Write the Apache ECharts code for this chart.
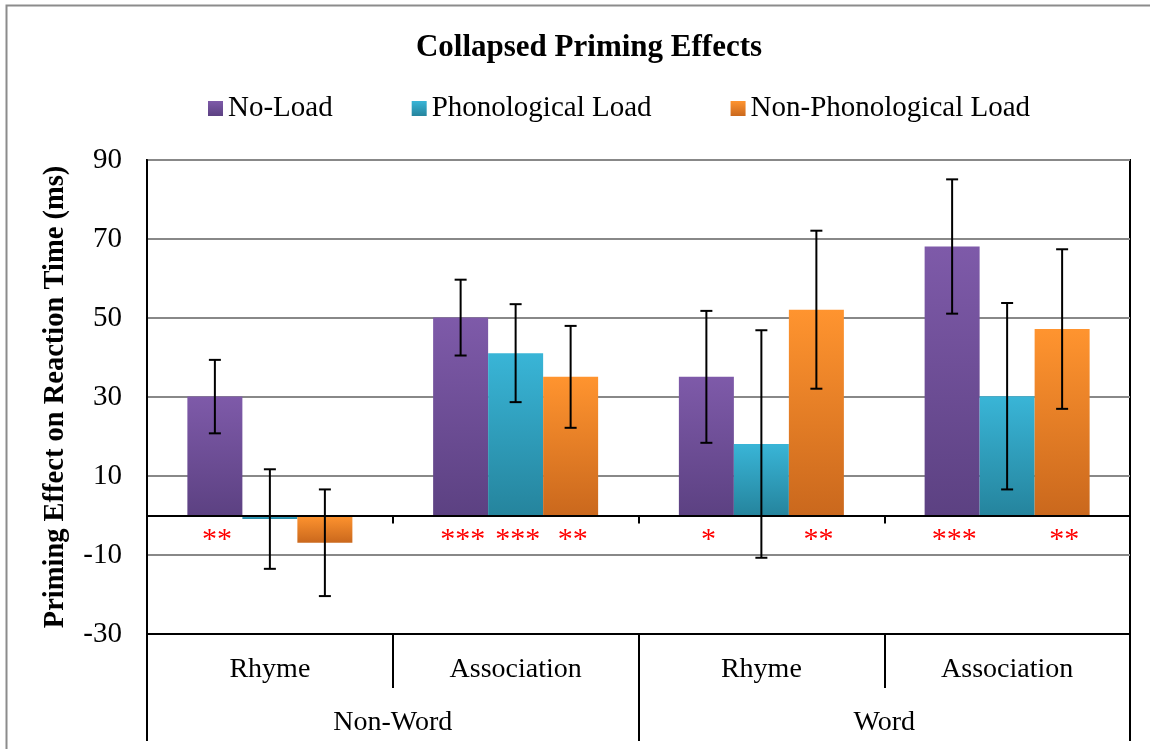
<!DOCTYPE html>
<html>
<head>
<meta charset="utf-8">
<script src="https://cdn.jsdelivr.net/npm/echarts@6/dist/echarts.min.js"></script>
<style>
html,body{margin:0;padding:0;background:#fff;}
#chart{width:1150px;height:749px;}
</style>
</head>
<body>
<div id="chart"></div>
<script>
// ---- data ----
var subCategories = ['Rhyme', 'Association', 'Rhyme', 'Association'];
var mainCategories = ['Non-Word', 'Word'];
var seriesNames = ['No-Load', 'Phonological Load', 'Non-Phonological Load'];
var noLoad = [30.1, 50.1, 35.1, 68.1];
var phonLoad = [-0.9, 41.1, 18.1, 30.2];
var nonPhonLoad = [-6.9, 35.1, 52.1, 47.2];
var noLoadErr = [9.3, 9.6, 16.7, 17.0];
var phonLoadErr = [12.6, 12.4, 28.8, 23.6];
var nonPhonLoadErr = [13.5, 12.9, 20.0, 20.2];
var noLoadStars = ['**', '***', '*', '***'];
var phonLoadStars = ['', '***', '', ''];
var nonPhonLoadStars = ['', '**', '**', '**'];
var yTicks = {min: -30, max: 90, interval: 20};
var titleText = 'Collapsed Priming Effects';
var yAxisName = 'Priming Effect on Reaction Time (ms)';

// ---- styling ----
var FONT = "'Liberation Serif', 'Times New Roman', serif";
var BAR_W = 55;
var STAR_LEVEL = -5.1;
var gradients = [
  ['#7e5aa9', '#5c4182'],
  ['#39b5d7', '#25849d'],
  ['#ff942f', '#ca681d']
];
function grad(c) {
  return new echarts.graphic.LinearGradient(0, 0, 0, 1, [
    {offset: 0, color: c[0]}, {offset: 1, color: c[1]}
  ]);
}
var values = [noLoad, phonLoad, nonPhonLoad];
var errs = [noLoadErr, phonLoadErr, nonPhonLoadErr];
var stars = [noLoadStars, phonLoadStars, nonPhonLoadStars];
var offsets = [-BAR_W, 0, BAR_W];

var series = [];
values.forEach(function (v, s) {
  series.push({
    name: seriesNames[s], type: 'bar', xAxisIndex: 0, data: v,
    barWidth: BAR_W, barGap: '0%',
    itemStyle: {color: grad(gradients[s])},
    z: 2
  });
});
values.forEach(function (v, s) {
  series.push({
    type: 'custom', xAxisIndex: 0, z: 5, silent: true,
    data: v.map(function (val, i) { return [i, val - errs[s][i], val + errs[s][i]]; }),
    encode: {x: 0, y: [1, 2]},
    renderItem: function (params, api) {
      var hi = api.coord([api.value(0), api.value(2)]);
      var lo = api.coord([api.value(0), api.value(1)]);
      var x = hi[0] + offsets[s];
      var cap = 6;
      var st = {stroke: '#000', lineWidth: 2};
      return {type: 'group', children: [
        {type: 'line', shape: {x1: x, y1: hi[1], x2: x, y2: lo[1]}, style: st},
        {type: 'line', shape: {x1: x - cap, y1: hi[1], x2: x + cap, y2: hi[1]}, style: st},
        {type: 'line', shape: {x1: x - cap, y1: lo[1], x2: x + cap, y2: lo[1]}, style: st}
      ]};
    }
  });
});
stars.forEach(function (arr, s) {
  series.push({
    type: 'custom', xAxisIndex: 0, z: 6, silent: true,
    data: arr.map(function (t, i) { return [i, STAR_LEVEL]; }),
    renderItem: function (params, api) {
      var p = api.coord([api.value(0), api.value(1)]);
      var t = arr[params.dataIndex];
      if (!t) return null;
      return {type: 'text', style: {
        text: t, x: p[0] + offsets[s] + 2, y: p[1] + 4,
        fill: '#ff0000', font: '30px ' + FONT, align: 'center', verticalAlign: 'middle'
      }};
    }
  });
});

var chart = echarts.init(document.getElementById('chart'), null, {renderer: 'canvas'});
chart.setOption({
  animation: false,
  backgroundColor: '#fff',
  textStyle: {fontFamily: FONT},
  graphic: [{
    type: 'rect', left: 4, top: 3, z: -10,
    shape: {x: 0, y: 0, width: 1170, height: 800},
    style: {fill: 'none', stroke: '#8c8c8c', lineWidth: 2}
  }],
  title: {
    text: titleText, left: 584, top: 27, textAlign: 'center',
    textStyle: {fontFamily: FONT, fontSize: 31, fontWeight: 'bold', color: '#000'}
  },
  legend: {
    data: seriesNames, left: 203, top: 89, itemWidth: 15, itemHeight: 15,
    itemGap: 79, icon: 'rect',
    textStyle: {fontFamily: FONT, fontSize: 29, color: '#000'}
  },
  grid: {
    left: 147, right: 20, top: 160, bottom: 115,
    show: true, borderColor: '#000', borderWidth: 2, containLabel: false
  },
  xAxis: [
    {
      type: 'category', data: subCategories, position: 'bottom',
      axisLine: {onZero: false, lineStyle: {color: '#000', width: 2}},
      axisTick: {show: true, interval: 0, length: 54, lineStyle: {color: '#000', width: 2}},
      axisLabel: {interval: 0, margin: 22, fontFamily: FONT, fontSize: 28, color: '#000'},
      splitLine: {show: false}
    },
    {
      type: 'category', data: mainCategories, position: 'bottom',
      axisLine: {show: false, onZero: false},
      axisTick: {show: true, interval: 0, length: 107, lineStyle: {color: '#000', width: 2}},
      axisLabel: {interval: 0, margin: 75, fontFamily: FONT, fontSize: 28, color: '#000'},
      splitLine: {show: false}
    },
    {
      type: 'category', data: subCategories, position: 'bottom', z: 10,
      axisLine: {onZero: true, lineStyle: {color: '#000', width: 2}},
      axisTick: {show: true, interval: 0, length: 8, lineStyle: {color: '#000', width: 2}},
      axisLabel: {show: false},
      splitLine: {show: false}
    }
  ],
  yAxis: {
    type: 'value', min: yTicks.min, max: yTicks.max, interval: yTicks.interval,
    name: yAxisName, nameLocation: 'middle', nameRotate: 90, nameGap: 77,
    nameTextStyle: {fontFamily: FONT, fontSize: 28.5, fontWeight: 'bold', color: '#000'},
    axisLine: {show: true, lineStyle: {color: '#000', width: 2}},
    axisTick: {show: false},
    axisLabel: {margin: 25, fontFamily: FONT, fontSize: 29, color: '#000'},
    splitLine: {show: true, lineStyle: {color: '#888', width: 2}}
  },
  series: series
});
</script>
</body>
</html>
